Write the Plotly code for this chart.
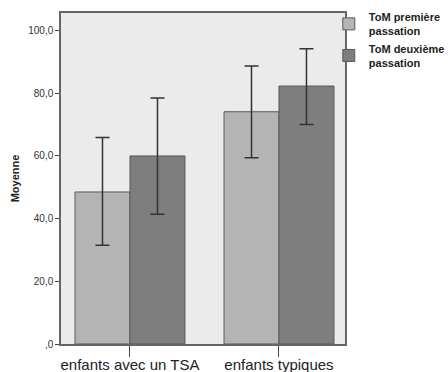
import plotly.graph_objects as go

categories = ["enfants avec un TSA", "enfants typiques"]
series_names = ["<b>ToM première<br>passation</b>", "<b>ToM deuxième<br>passation</b>"]
means_1 = [48.5, 74.1]
means_2 = [60.0, 82.3]
ci_low_1 = [31.5, 59.4]
ci_high_1 = [65.9, 88.7]
ci_low_2 = [41.4, 70.0]
ci_high_2 = [78.5, 94.2]
y_ticks = [0, 20, 40, 60, 80, 100]
y_tick_labels = [",0", "20,0", "40,0", "60,0", "80,0", "100,0"]

colors = ["#b4b4b4", "#7e7e7e"]

fig = go.Figure()
for name, m, lo, hi, c in [
    (series_names[0], means_1, ci_low_1, ci_high_1, colors[0]),
    (series_names[1], means_2, ci_low_2, ci_high_2, colors[1]),
]:
    fig.add_trace(go.Bar(
        x=categories, y=m, name=name,
        marker=dict(color=c, line=dict(color="#5a5a5a", width=1)),
        error_y=dict(type="data", symmetric=False,
                     array=[h - v for h, v in zip(hi, m)],
                     arrayminus=[v - l for l, v in zip(lo, m)],
                     color="#333333", thickness=1.5, width=7),
    ))

fig.update_layout(
    width=448, height=372,
    margin=dict(l=61, r=103, t=13, b=28, autoexpand=False),
    paper_bgcolor="white", plot_bgcolor="#ebebeb",
    barmode="group", bargap=0.262, bargroupgap=0,
    showlegend=True,
    legend=dict(x=0.943, y=1.03, xanchor="left", yanchor="top",
                bgcolor="rgba(0,0,0,0)", tracegroupgap=0,
                font=dict(family="Liberation Sans, Arial", size=11, color="#222222")),
    font=dict(family="Liberation Sans, Arial", color="#222222"),
)
fig.update_xaxes(
    range=[-0.463, 1.443], showgrid=False, automargin=False,
    showline=True, linecolor="#666666", linewidth=1.5, mirror=True,
    ticks="outside", ticklen=11, tickcolor="#444444", tickwidth=1,
    ticklabelstandoff=-5,
    tickfont=dict(size=15, color="#222222"),
)
fig.update_yaxes(
    range=[0, 105.6], showgrid=False, zeroline=False, automargin=False,
    showline=True, linecolor="#666666", linewidth=1.5, mirror=True,
    tickvals=y_ticks, ticktext=y_tick_labels,
    ticks="outside", ticklen=4, tickcolor="#444444",
    tickfont=dict(size=10, color="#333333"),
    title=dict(text="<b>Moyenne</b>", font=dict(size=11, color="#222222"), standoff=6),
)
fig.write_html("out.html", config={"displayModeBar": False},
               post_script="document.body.style.margin='0px';")
